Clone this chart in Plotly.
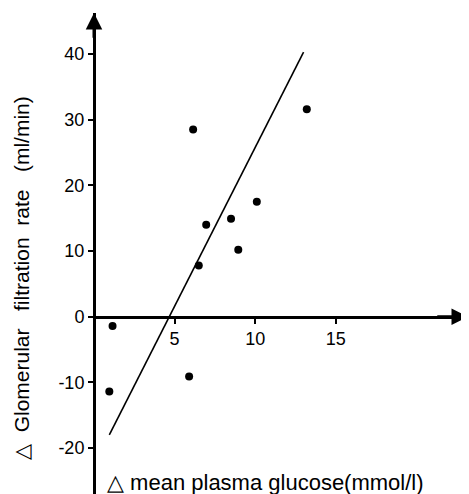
import plotly.graph_objects as go

# Data
glucose_change = [1.15, 0.95, 5.9, 6.15, 6.5, 6.96, 8.5, 8.95, 10.1, 13.2]
gfr_change = [-1.4, -11.4, -9.1, 28.5, 7.8, 14.0, 14.9, 10.2, 17.5, 31.6]
fit_x = [0.95, 13.0]
fit_y = [-18.0, 40.3]
x_ticks = [5, 10, 15]
y_ticks = [-20, -10, 0, 10, 20, 30, 40]

x_range = [0, 23.2]
y_range = [-27.0, 46.25]

FONT = "Liberation Sans, Arial, Helvetica, sans-serif"

# page body adds an 8px margin; figure is sized so that the plot lands in place
W, H = 461, 486
ML, MT = 86, 5
PW, PH = W - ML - 1, H - MT

fig = go.Figure()
fig.add_trace(go.Scatter(x=fit_x, y=fit_y, mode="lines",
                         line=dict(color="black", width=1.6),
                         hoverinfo="skip", showlegend=False))
fig.add_trace(go.Scatter(x=glucose_change, y=gfr_change, mode="markers",
                         marker=dict(color="black", size=8),
                         showlegend=False))

x_pos = (0 - y_range[0]) / (y_range[1] - y_range[0])

fig.update_layout(
    width=W, height=H,
    margin=dict(l=ML, r=1, t=MT, b=0, autoexpand=False),
    paper_bgcolor="white", plot_bgcolor="white",
    font=dict(family=FONT, color="black", size=18),
    xaxis=dict(range=x_range, anchor="free", position=x_pos,
               showgrid=False, zeroline=False, showline=True,
               linecolor="black", linewidth=3,
               ticks="outside", ticklen=5, tickwidth=2, tickcolor="black",
               tickvals=x_ticks, ticktext=[str(v) for v in x_ticks],
               tickfont=dict(size=18)),
    yaxis=dict(range=y_range, anchor="free", position=0,
               showgrid=False, zeroline=False, showline=True,
               linecolor="black", linewidth=3,
               ticks="outside", ticklen=5, tickwidth=2, tickcolor="black",
               tickvals=y_ticks, ticktext=[str(v) for v in y_ticks],
               tickfont=dict(size=18)),
)

# Axis arrow heads
fig.add_annotation(x=0, y=y_range[1], ax=0, ay=y_range[1] - 4,
                   xref="x", yref="y", axref="x", ayref="y",
                   showarrow=True, arrowhead=2, arrowsize=1.1, arrowwidth=3,
                   arrowcolor="black", text="")
fig.add_annotation(x=x_range[1], y=0, ax=x_range[1] - 2, ay=0,
                   xref="x", yref="y", axref="x", ayref="y",
                   showarrow=True, arrowhead=2, arrowsize=1.1, arrowwidth=3,
                   arrowcolor="black", text="")

nb = "\u00a0"
ylab = (f"△{nb}{nb}Glomerular{nb}{nb}{nb}filtration{nb}{nb}rate"
        f"{nb}{nb}{nb}(ml/min)")
fig.add_annotation(
    text=ylab,
    xref="paper", yref="paper", x=(13 - ML) / PW, y=(H - 270) / PH,
    xanchor="center", yanchor="middle", textangle=-90, showarrow=False,
    font=dict(size=21, family=FONT, color="black"))
fig.add_annotation(
    text=f"△{nb}mean{nb}plasma{nb}glucose(mmol/l)",
    xref="paper", yref="paper", x=(97 - ML) / PW, y=(H - 474) / PH,
    xanchor="left", yanchor="middle", showarrow=False,
    font=dict(size=22, family=FONT, color="black"))

fig.write_html("out.html")
